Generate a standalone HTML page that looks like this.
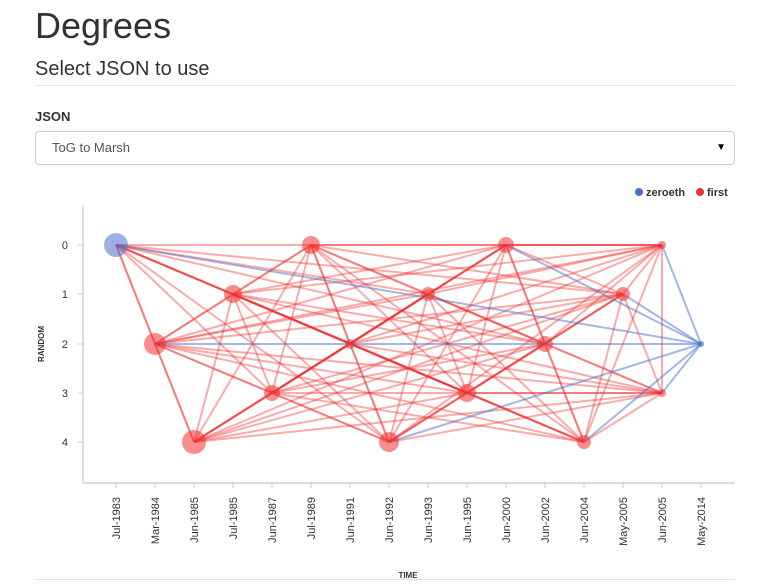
<!DOCTYPE html>
<html><head><meta charset="utf-8"><style>
body{margin:0;background:#fff;font-family:"Liberation Sans",sans-serif;color:#333;width:759px;height:586px;overflow:hidden;position:relative}
h1{position:absolute;left:35px;top:4px;margin:0;font-weight:400;font-size:36px;line-height:44px}
h3{position:absolute;left:35px;top:58px;margin:0;font-weight:400;font-size:20px}
.hr{position:absolute;left:35px;width:700px;height:1px;background:#e5e5e5}
.lbl{position:absolute;left:35px;top:109px;font-weight:bold;font-size:13px}
.sel{position:absolute;left:35px;top:131px;width:698px;height:32px;border:1px solid #ccc;border-radius:4px;font-size:13px;line-height:32px;color:#555}
</style></head><body>
<h1>Degrees</h1>
<h3>Select JSON to use</h3>
<div class="hr" style="top:85px"></div>
<div class="lbl">JSON</div>
<div class="sel"><span style="margin-left:16px">ToG to Marsh</span><span style="position:absolute;right:8px;font-size:10px;color:#000">▼</span></div>
<div class="hr" style="top:579px"></div>
<svg id="s" width="759" height="586" style="position:absolute;left:0;top:0" font-family="Liberation Sans, sans-serif">
<circle cx="639" cy="192" r="4" fill="#4a6fc9"/><text x="646" y="196" font-size="11" font-weight="bold" fill="#333">zeroeth</text>
<circle cx="700" cy="192" r="4" fill="#f03030"/><text x="707" y="196" font-size="11" font-weight="bold" fill="#333">first</text>
<path d="M83,205V483H735" fill="none" stroke="#ddd" stroke-width="2"/>
<g id="g"></g>
<text transform="translate(44,344) rotate(-90)" font-size="8" font-weight="bold" text-anchor="middle" fill="#333">RANDOM</text>
<text x="408" y="578" font-size="8" font-weight="bold" text-anchor="middle" fill="#333">TIME</text>
</svg>
<script>
var g=document.getElementById('g'),ns='http://www.w3.org/2000/svg',h='';
var Y=[245,294,344,393,442];
['0','1','2','3','4'].forEach(function(t,i){h+='<line x1="78" x2="83" y1="'+Y[i]+'" y2="'+Y[i]+'" stroke="#ccc"/><text x="68" y="'+(Y[i]+4)+'" font-size="11" text-anchor="end" fill="#333">'+t+'</text>';});
var L=['Jul-1983','Mar-1984','Jun-1985','Jul-1985','Jun-1987','Jul-1989','Jun-1991','Jun-1992','Jun-1993','Jun-1995','Jun-2000','Jun-2002','Jun-2004','May-2005','Jun-2005','May-2014'];
L.forEach(function(t,i){var x=116+39*i;h+='<line x1="'+x+'" x2="'+x+'" y1="483" y2="488" stroke="#ccc"/><text transform="translate('+(x+4)+',497) rotate(-90)" font-size="11" text-anchor="end" fill="#333">'+t+'</text>';});
var N=[[116,245,12],[155,344,11],[194,442,12],[233,294,9],[272,393,8],[311,245,9],[350,344,5],[389,442,10],[428,294,7],[467,393,9],[506,245,8],[545,344,8],[584,442,7],[623,294,7],[662,245,4],[662,393,4]];
var e='';
for(var i=0;i<N.length;i++)for(var j=i+1;j<N.length;j++){if((i*7+j*3)%5==0)continue;e+='<line x1="'+N[i][0]+'" y1="'+N[i][1]+'" x2="'+N[j][0]+'" y2="'+N[j][1]+'" stroke="#f03030" stroke-opacity="0.4" stroke-width="2"/>';}
[[116,245],[155,344],[662,245],[506,245],[584,442],[389,442],[662,393],[623,294]].forEach(function(p){e+='<line x1="'+p[0]+'" y1="'+p[1]+'" x2="701" y2="344" stroke="#4a6fc9" stroke-opacity="0.5" stroke-width="2"/>';});
var c='';
N.forEach(function(n,i){c+='<circle cx="'+n[0]+'" cy="'+n[1]+'" r="'+n[2]+'" fill="'+(i==0?'#4a6fc9':'#f03030')+'" fill-opacity="0.55"/>';});
c+='<circle cx="701" cy="344" r="3" fill="#4a6fc9" fill-opacity="0.7"/>';
g.innerHTML=h+e+c;
</script>
</body></html>
